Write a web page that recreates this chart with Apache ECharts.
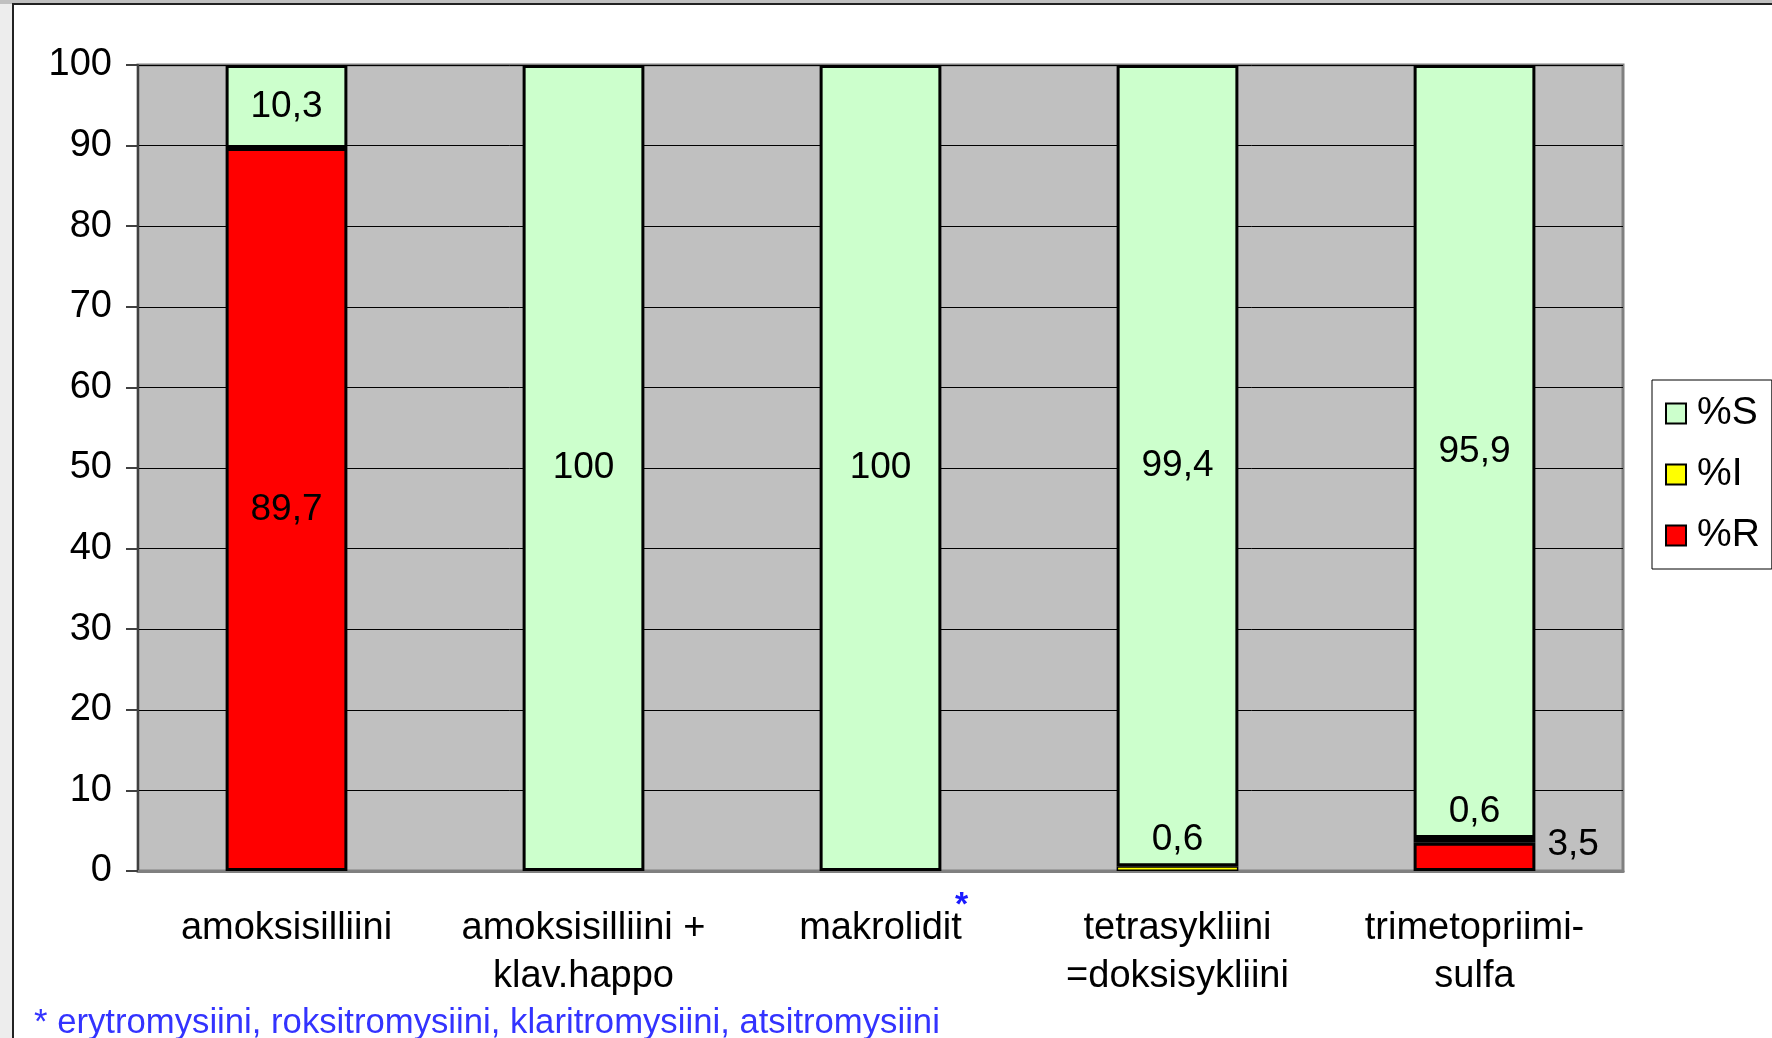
<!DOCTYPE html>
<html>
<head>
<meta charset="utf-8">
<script src="https://cdn.jsdelivr.net/npm/echarts@6/dist/echarts.min.js"></script>
<style>
  html, body { margin: 0; padding: 0; width: 1772px; height: 1038px; overflow: hidden; background: #ededed; }
  #topstrip { position: absolute; left: 0; top: 0; width: 1772px; height: 4px; background: #c0c0c0; }
  #panel { position: absolute; left: 12px; top: 3px; width: 1760px; height: 1035px; background: #fff;
           border-left: 2px solid #222; border-top: 2px solid #222; box-sizing: border-box; }
  #chart { position: absolute; left: 0; top: 0; width: 1772px; height: 1038px; }
</style>
</head>
<body>
<div id="topstrip"></div>
<div id="panel"></div>
<div id="chart"></div>
<script>
// antibiootit ja herkkyys (%)
const categories = ['amoksisilliini', 'amoksisilliini +\nklav.happo', 'makrolidit', 'tetrasykliini\n=doksisykliini', 'trimetopriimi-\nsulfa']
const valuesR = [89.7, null, null, null, 3.5]
const valuesI = [null, null, null, 0.6, 0.6]
const valuesS = [10.3, 100, 100, 99.4, 95.9]
const yTicks = { min: 0, max: 100, interval: 10 }
const footnote = '* erytromysiini, roksitromysiini, klaritromysiini, atsitromysiini'

const font = 'Arial, "Liberation Sans", sans-serif'
const fmt = p => (p.value == null ? '' : String(p.value).replace('.', ','))

const barBase = {
  type: 'bar',
  stack: 'total',
  barWidth: '41%',
  emphasis: { disabled: true },
  label: { show: true, color: '#000', fontSize: 37, fontFamily: font, formatter: fmt }
}

const chart = echarts.init(document.getElementById('chart'), null, { renderer: 'canvas' })

chart.setOption({
  backgroundColor: 'transparent',
  animation: false,
  textStyle: { fontFamily: font },
  grid: {
    left: 138, top: 65, right: 149, bottom: 167,
    show: true, backgroundColor: '#c0c0c0', borderColor: '#808080', borderWidth: 3
  },
  legend: {
    orient: 'vertical',
    left: 1652, top: 380,
    padding: [14, 12, 14, 13],
    itemGap: 22,
    itemWidth: 20, itemHeight: 20,
    icon: 'rect',
    backgroundColor: '#fff',
    borderColor: '#000', borderWidth: 1,
    borderRadius: 0,
    itemStyle: { borderColor: '#000', borderWidth: 2 },
    textStyle: { fontSize: 39, color: '#000', fontFamily: font, padding: [0, 0, 0, 6] },
    data: ['%S', '%I', '%R']
  },
  xAxis: {
    type: 'category',
    data: categories,
    axisLine: { lineStyle: { color: '#808080', width: 3 } },
    axisTick: { length: 12, lineStyle: { color: '#808080', width: 2 } },
    axisLabel: { interval: 0, color: '#000', fontSize: 38, lineHeight: 48, margin: 34, fontFamily: font }
  },
  yAxis: {
    type: 'value',
    min: yTicks.min, max: yTicks.max, interval: yTicks.interval,
    axisLine: { show: true, lineStyle: { color: '#404040', width: 2 } },
    axisTick: { show: true, length: 12, lineStyle: { color: '#404040', width: 2 } },
    axisLabel: { color: '#000', fontSize: 38, margin: 26, fontFamily: font },
    splitLine: { lineStyle: { color: '#000', width: 1 } }
  },
  series: [
    Object.assign({}, barBase, {
      name: '%R', data: valuesR,
      itemStyle: { color: '#ff0000', borderColor: '#000', borderWidth: 3 },
      label: Object.assign({}, barBase.label, { position: 'inside' }),
      labelLayout: p => (p.dataIndex === 4 ? { x: p.rect.x + p.rect.width + 12, y: p.rect.y + 2, align: 'left', verticalAlign: 'middle' } : {})
    }),
    Object.assign({}, barBase, {
      name: '%I',
      // thin slice drawn with a heavier outline where it sits on the red part
      data: valuesI.map((v, i) => (v != null && valuesR[i] != null ? { value: v, itemStyle: { borderWidth: 3 } } : v)),
      itemStyle: { color: '#ffff00', borderColor: '#000', borderWidth: 1.5 },
      label: Object.assign({}, barBase.label, { position: 'top', distance: 8 })
    }),
    Object.assign({}, barBase, {
      name: '%S', data: valuesS,
      itemStyle: { color: '#ccffcc', borderColor: '#000', borderWidth: 3 },
      label: Object.assign({}, barBase.label, { position: 'inside' })
    })
  ],
  graphic: [
    { type: 'text', left: 955, top: 889, style: { text: '*', fill: '#1a1aff', font: 'bold 34px ' + font } },
    { type: 'text', left: 34, top: 1006, style: { text: footnote, fill: '#3333ff', font: '34.7px ' + font } }
  ]
})
</script>
</body>
</html>
